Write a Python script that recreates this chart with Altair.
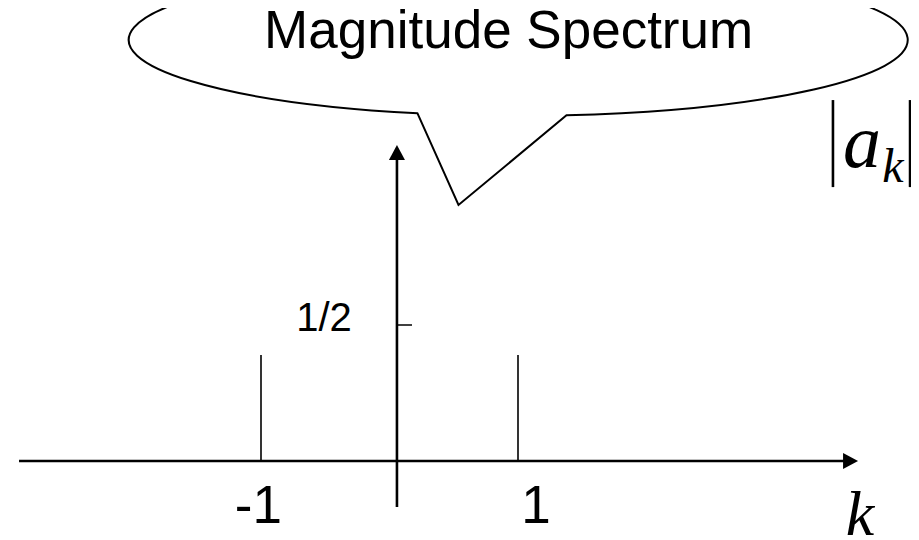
import altair as alt
import pandas as pd

# ---- data ----
k_values = [-1, 1]            # harmonic index of the two lines
magnitudes = [0.39, 0.39]     # |a_k| of the two lines (in units of the y tick)

y_tick_values = [0.5]
y_tick_labels = ["1/2"]

k_tick_labels = ["-1", "1"]
k_tick_positions = [-1.02, 1.14]
k_tick_level = [-0.228, -0.228]

title_text = ["Magnitude Spectrum"]
y_title_parts = ["a", "k"]
x_title = ["k"]

# ---- annotation geometry in data units (k, value) ----
x_axis_span = [-2.883, 3.588]
y_axis_pos = 0.058
y_axis_span = [-0.169, 1.134]
tick_span = [0.058, 0.175]
bubble_center = [1.0, 1.548]
title_pos = [0.927, 1.518]
y_tick_label_pos = [-0.510, 0.478]
x_title_pos = [3.661, -0.272]
bars_k = [3.451, 4.051]
bars_v = [1.007, 1.327]
a_pos = [3.677, 1.081]
sub_pos = [3.918, 1.026]

xs = alt.Scale(domain=[-1, 1], range=[253, 510], nice=False, zero=False)
ys = alt.Scale(domain=[0, 0.5], range=[453, 317], nice=False, zero=False)


def X(f):
    return alt.X(f, type="quantitative", scale=xs, axis=None)


def Y(f):
    return alt.Y(f, type="quantitative", scale=ys, axis=None)


BUBBLE = "M-1.005,0.734L-0.595,1.65L0.485,0.754A3.895,0.76,0,1,0,-1.005,0.734Z"
ARROW_UP = "M0,-1L1.07,1L-1.07,1Z"
ARROW_RIGHT = "M1,0L-1,-1.07L-1,1.07Z"

bubble = alt.Chart(pd.DataFrame({"k": [bubble_center[0]], "v": [bubble_center[1]]})).mark_point(
    shape=BUBBLE, size=40000, filled=True, fill="white", stroke="black",
    strokeWidth=2, opacity=1
).encode(x=X("k"), y=Y("v"))

x_axis = alt.Chart(pd.DataFrame({"x0": [x_axis_span[0]], "x1": [x_axis_span[1]], "v": [0]})).mark_rule(
    color="black", strokeWidth=2.6
).encode(x=X("x0"), x2="x1", y=Y("v"))

x_head = alt.Chart(pd.DataFrame({"k": [x_axis_span[1]], "v": [0]})).mark_point(
    shape=ARROW_RIGHT, size=225, filled=True, color="black", opacity=1
).encode(x=X("k"), y=Y("v"))

y_axis = alt.Chart(pd.DataFrame({"k": [y_axis_pos], "v0": [y_axis_span[0]], "v1": [y_axis_span[1]]})).mark_rule(
    color="black", strokeWidth=2.6
).encode(x=X("k"), y=Y("v0"), y2="v1")

y_head = alt.Chart(pd.DataFrame({"k": [y_axis_pos], "v": [y_axis_span[1]]})).mark_point(
    shape=ARROW_UP, size=225, filled=True, color="black", opacity=1
).encode(x=X("k"), y=Y("v"))

tick = alt.Chart(pd.DataFrame({"k0": [tick_span[0]], "k1": [tick_span[1]], "v": y_tick_values})).mark_rule(
    color="black", strokeWidth=1.5
).encode(x=X("k0"), x2="k1", y=Y("v"))

stems = alt.Chart(pd.DataFrame({"k": k_values, "base": [0, 0], "mag": magnitudes})).mark_rule(
    color="black", strokeWidth=1.6
).encode(x=X("k"), y=Y("base"), y2="mag")

tick_label = alt.Chart(pd.DataFrame({"k": [y_tick_label_pos[0]], "v": [y_tick_label_pos[1]], "t": y_tick_labels})).mark_text(
    font="Liberation Sans", fontSize=40, color="black", align="center", baseline="alphabetic"
).encode(x=X("k"), y=Y("v"), text="t:N")

k_labels = alt.Chart(pd.DataFrame({"k": k_tick_positions, "v": k_tick_level, "t": k_tick_labels})).mark_text(
    font="Liberation Sans", fontSize=53, color="black", align="center", baseline="alphabetic"
).encode(x=X("k"), y=Y("v"), text="t:N")

title = alt.Chart(pd.DataFrame({"k": [title_pos[0]], "v": [title_pos[1]], "t": title_text})).mark_text(
    font="Liberation Sans", fontSize=53, color="black", align="center", baseline="alphabetic"
).encode(x=X("k"), y=Y("v"), text="t:N")

k_title = alt.Chart(pd.DataFrame({"k": [x_title_pos[0]], "v": [x_title_pos[1]], "t": x_title})).mark_text(
    font="Liberation Serif", fontStyle="italic", fontSize=64, color="black", align="center", baseline="alphabetic"
).encode(x=X("k"), y=Y("v"), text="t:N")

bars = alt.Chart(pd.DataFrame({"k": bars_k, "v0": [bars_v[0]] * 2, "v1": [bars_v[1]] * 2})).mark_rule(
    color="black", strokeWidth=2.6
).encode(x=X("k"), y=Y("v0"), y2="v1")

a_text = alt.Chart(pd.DataFrame({"k": [a_pos[0]], "v": [a_pos[1]], "t": [y_title_parts[0]]})).mark_text(
    font="Liberation Serif", fontStyle="italic", fontSize=76, color="black", align="center", baseline="alphabetic"
).encode(x=X("k"), y=Y("v"), text="t:N")

sub_text = alt.Chart(pd.DataFrame({"k": [sub_pos[0]], "v": [sub_pos[1]], "t": [y_title_parts[1]]})).mark_text(
    font="Liberation Serif", fontStyle="italic", fontSize=48, color="black", align="center", baseline="alphabetic"
).encode(x=X("k"), y=Y("v"), text="t:N")

chart = alt.layer(
    bubble, x_axis, x_head, y_axis, y_head, tick, stems,
    tick_label, k_labels, title, k_title, bars, a_text, sub_text
).properties(
    width=903, height=528,
    autosize=alt.AutoSizeParams(type="none"),
    padding=0,
    background="white",
).configure_view(strokeWidth=0)

chart.save("out.html", embed_options={"renderer": "svg", "actions": False})
